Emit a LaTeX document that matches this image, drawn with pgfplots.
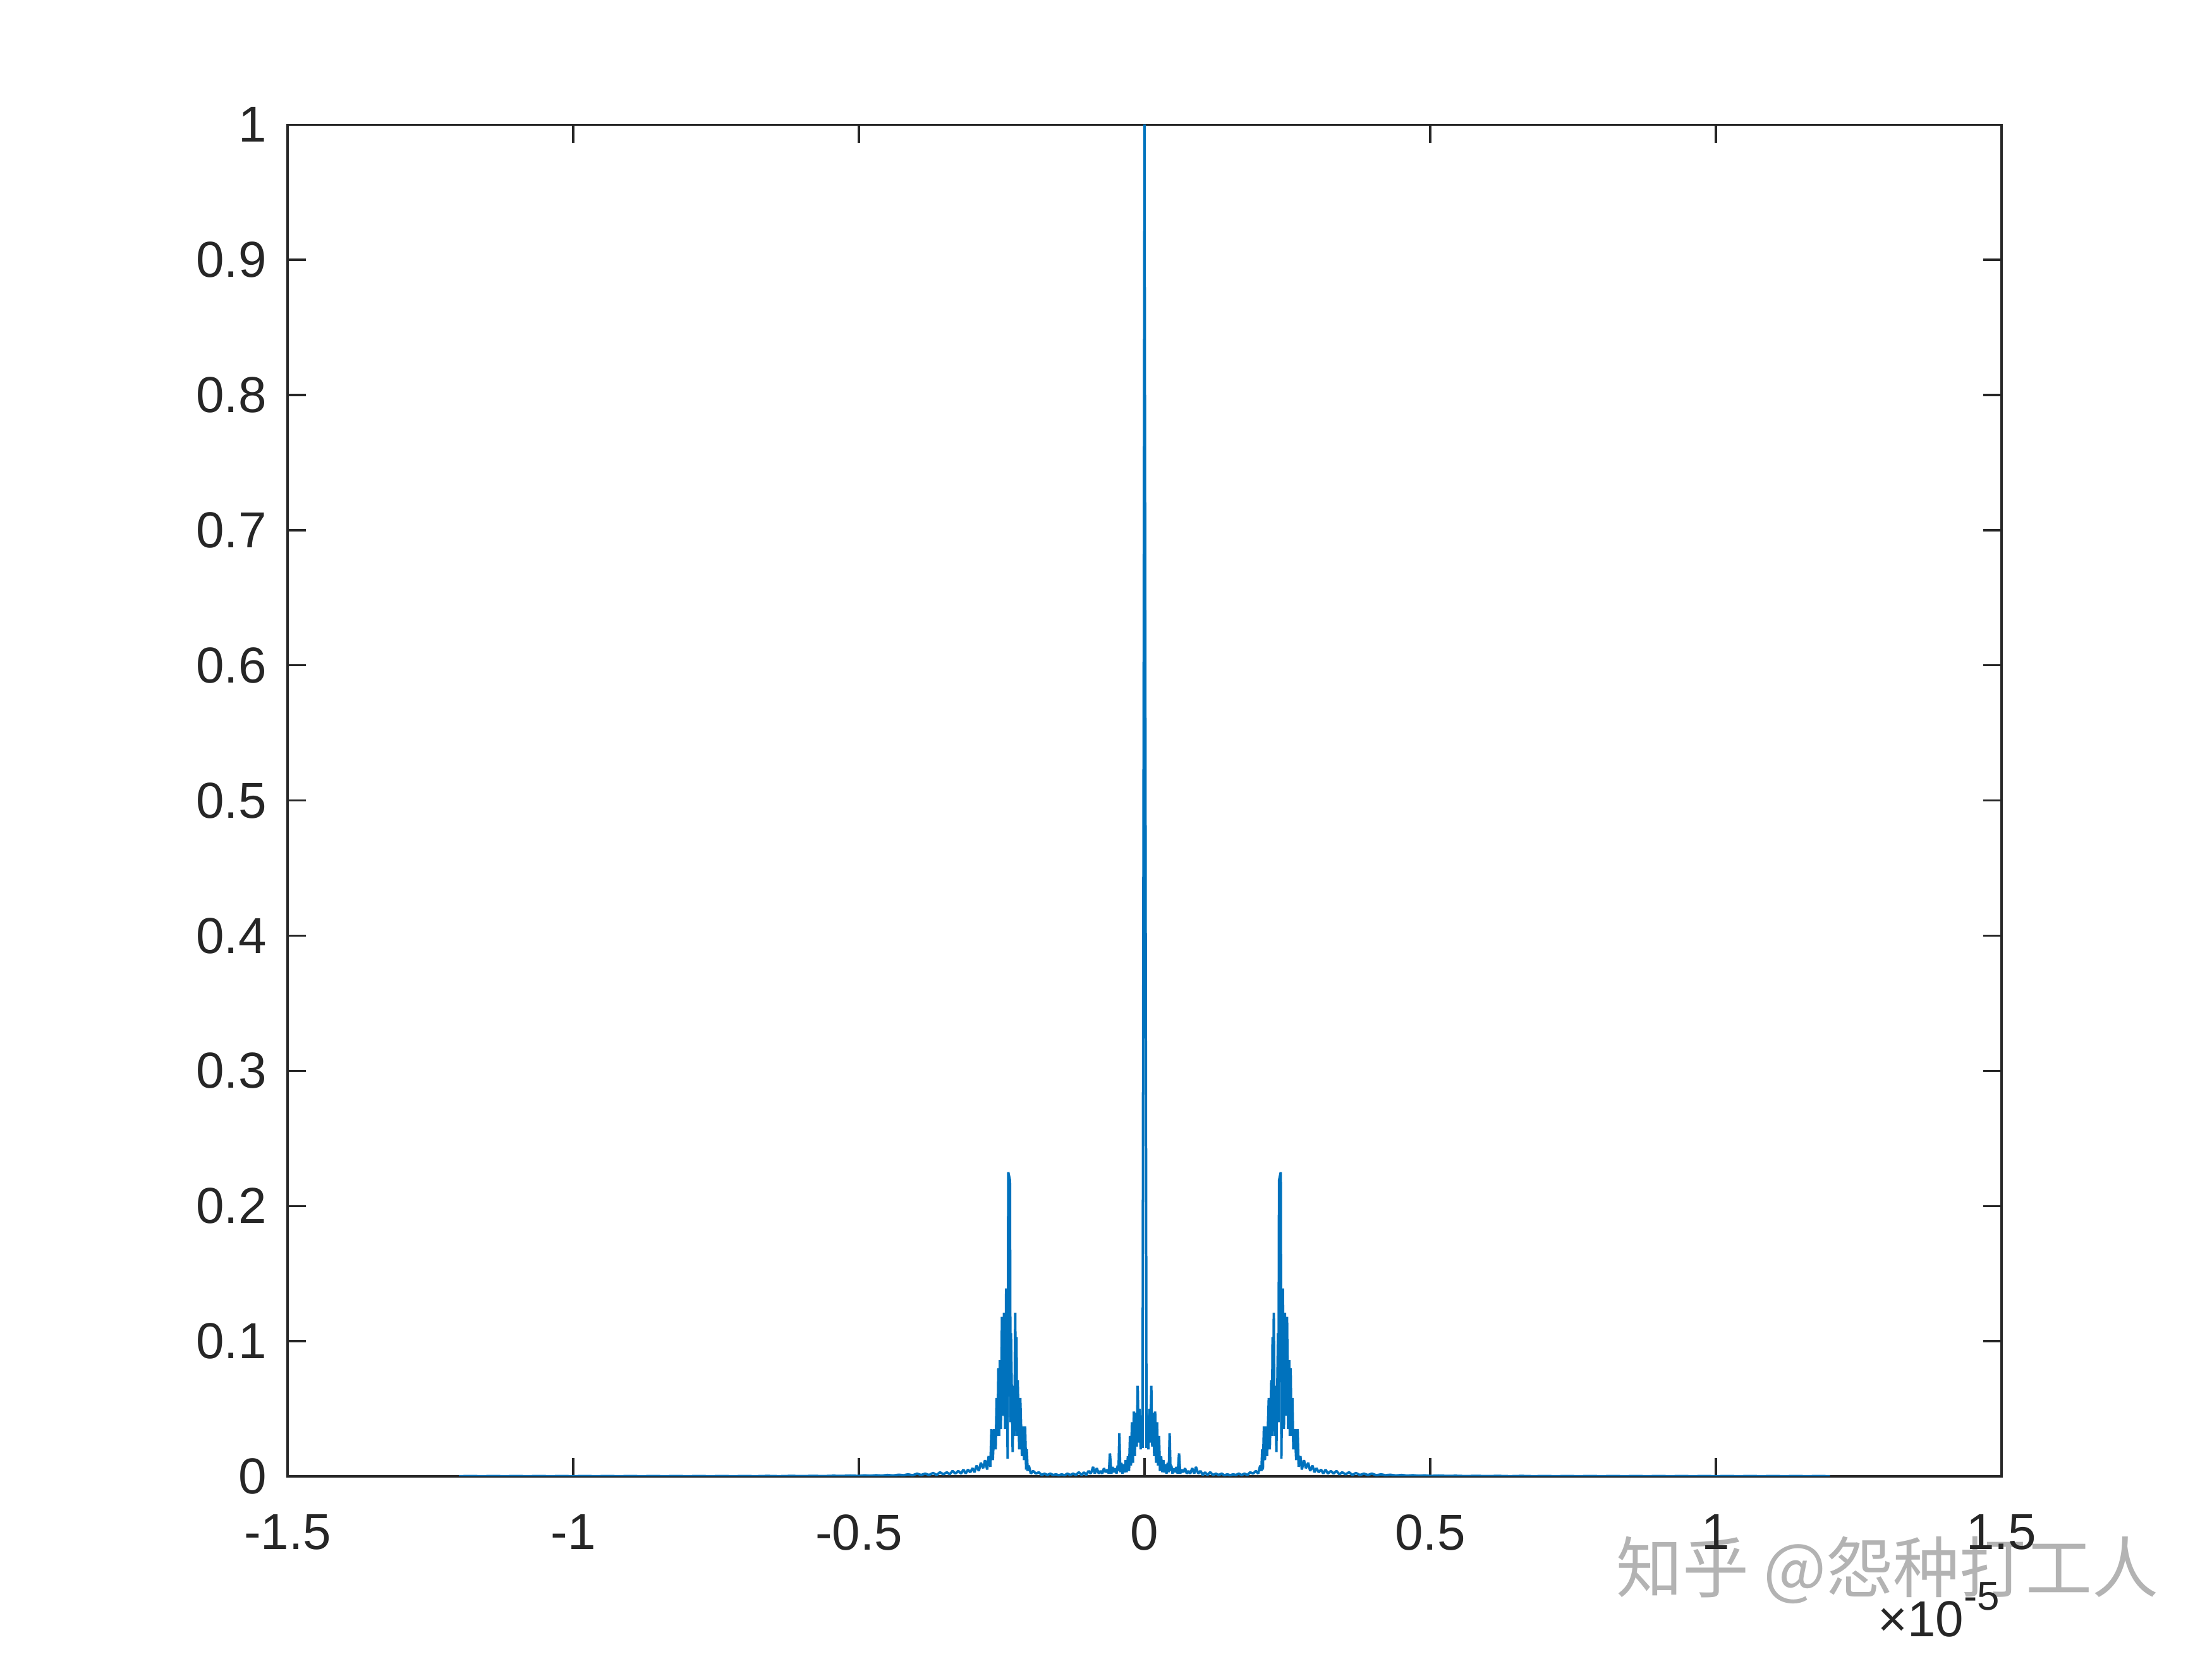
\documentclass[border=0pt]{standalone}
\usepackage{pgfplots}
\pgfplotsset{compat=1.18}
\usepackage{pgfplotstable}
\usepackage{fontspec}
\setmainfont{Liberation Sans}
\newfontfamily\cjk{Noto Sans CJK SC}
\definecolor{mblue}{rgb}{0,0.447,0.741}
\definecolor{axgray}{HTML}{262626}
\definecolor{wm}{HTML}{B3B3B3}

\pgfplotstableread{
x y
-1.2000 0.0001
-1.1800 0.0002
-1.1600 0.0001
-1.1400 0.0002
-1.1200 0.0001
-1.1000 0.0002
-1.0800 0.0001
-1.0600 0.0002
-1.0400 0.0001
-1.0200 0.0002
-1.0000 0.0001
-0.9800 0.0002
-0.9600 0.0001
-0.9400 0.0002
-0.9200 0.0001
-0.9000 0.0002
-0.8800 0.0001
-0.8600 0.0002
-0.8400 0.0001
-0.8200 0.0002
-0.8000 0.0001
-0.7800 0.0002
-0.7600 0.0001
-0.7400 0.0002
-0.7200 0.0001
-0.7000 0.0002
-0.6800 0.0001
-0.6600 0.0003
-0.6400 0.0001
-0.6200 0.0003
-0.6000 0.0002
-0.5800 0.0003
-0.5600 0.0002
-0.5450 0.0004
-0.5300 0.0003
-0.5150 0.0005
-0.5000 0.0003
-0.4900 0.0007
-0.4800 0.0004
-0.4700 0.0008
-0.4600 0.0005
-0.4500 0.0010
-0.4400 0.0006
-0.4300 0.0012
-0.4220 0.0008
-0.4140 0.0015
-0.4060 0.0008
-0.3980 0.0020
-0.3910 0.0010
-0.3840 0.0020
-0.3770 0.0010
-0.3700 0.0025
-0.3640 0.0010
-0.3580 0.0030
-0.3520 0.0015
-0.3460 0.0030
-0.3410 0.0015
-0.3360 0.0040
-0.3310 0.0020
-0.3260 0.0040
-0.3210 0.0020
-0.3170 0.0050
-0.3130 0.0020
-0.3090 0.0050
-0.3050 0.0030
-0.3010 0.0060
-0.2975 0.0030
-0.2940 0.0080
-0.2900 0.0040
-0.2865 0.0100
-0.2825 0.0060
-0.2791 0.0120
-0.2754 0.0050
-0.2728 0.0150
-0.2698 0.0070
-0.2680 0.0350
-0.2655 0.0120
-0.2632 0.0350
-0.2605 0.0200
-0.2588 0.0580
-0.2573 0.0300
-0.2558 0.0800
-0.2544 0.0300
-0.2532 0.0860
-0.2514 0.0350
-0.2495 0.1180
-0.2477 0.0450
-0.2459 0.1210
-0.2440 0.0350
-0.2422 0.1390
-0.2396 0.0130
-0.2385 0.2250
-0.2355 0.2190
-0.2345 0.0400
-0.2337 0.1060
-0.2308 0.0180
-0.2293 0.0670
-0.2278 0.0300
-0.2263 0.1210
-0.2252 0.0500
-0.2241 0.1030
-0.2230 0.0300
-0.2219 0.0710
-0.2193 0.0200
-0.2175 0.0580
-0.2145 0.0150
-0.2127 0.0370
-0.2108 0.0120
-0.2090 0.0370
-0.2072 0.0050
-0.2061 0.0200
-0.2045 0.0040
-0.2025 0.0080
-0.1990 0.0020
-0.1950 0.0040
-0.1900 0.0020
-0.1850 0.0030
-0.1800 0.0010
-0.1750 0.0020
-0.1700 0.0010
-0.1650 0.0020
-0.1600 0.0010
-0.1550 0.0015
-0.1500 0.0008
-0.1450 0.0015
-0.1400 0.0008
-0.1350 0.0020
-0.1300 0.0010
-0.1250 0.0020
-0.1200 0.0010
-0.1150 0.0030
-0.1100 0.0010
-0.1060 0.0030
-0.1020 0.0010
-0.0980 0.0040
-0.0940 0.0020
-0.0900 0.0070
-0.0870 0.0020
-0.0835 0.0060
-0.0800 0.0020
-0.0770 0.0040
-0.0740 0.0020
-0.0710 0.0060
-0.0680 0.0030
-0.0650 0.0050
-0.0625 0.0020
-0.0605 0.0170
-0.0580 0.0020
-0.0560 0.0070
-0.0535 0.0030
-0.0510 0.0060
-0.0490 0.0020
-0.0470 0.0080
-0.0455 0.0040
-0.0440 0.0320
-0.0424 0.0030
-0.0406 0.0100
-0.0385 0.0020
-0.0365 0.0090
-0.0350 0.0030
-0.0330 0.0120
-0.0313 0.0030
-0.0290 0.0150
-0.0271 0.0040
-0.0254 0.0300
-0.0237 0.0080
-0.0220 0.0400
-0.0203 0.0100
-0.0186 0.0480
-0.0170 0.0150
-0.0152 0.0470
-0.0136 0.0220
-0.0119 0.0670
-0.0102 0.0250
-0.0085 0.0500
-0.0068 0.0200
-0.0051 0.0450
-0.0034 0.0210
0.0000 1.0000
0.0034 0.0210
0.0051 0.0450
0.0068 0.0200
0.0085 0.0500
0.0102 0.0250
0.0119 0.0670
0.0136 0.0220
0.0152 0.0470
0.0170 0.0150
0.0186 0.0480
0.0203 0.0100
0.0220 0.0400
0.0237 0.0080
0.0254 0.0300
0.0271 0.0040
0.0290 0.0150
0.0313 0.0030
0.0330 0.0120
0.0350 0.0030
0.0365 0.0090
0.0385 0.0020
0.0406 0.0100
0.0424 0.0030
0.0440 0.0320
0.0455 0.0040
0.0470 0.0080
0.0490 0.0020
0.0510 0.0060
0.0535 0.0030
0.0560 0.0070
0.0580 0.0020
0.0605 0.0170
0.0625 0.0020
0.0650 0.0050
0.0680 0.0030
0.0710 0.0060
0.0740 0.0020
0.0770 0.0040
0.0800 0.0020
0.0835 0.0060
0.0870 0.0020
0.0900 0.0070
0.0940 0.0020
0.0980 0.0040
0.1020 0.0010
0.1060 0.0030
0.1100 0.0010
0.1150 0.0030
0.1200 0.0010
0.1250 0.0020
0.1300 0.0010
0.1350 0.0020
0.1400 0.0008
0.1450 0.0015
0.1500 0.0008
0.1550 0.0015
0.1600 0.0010
0.1650 0.0020
0.1700 0.0010
0.1750 0.0020
0.1800 0.0010
0.1850 0.0030
0.1900 0.0020
0.1950 0.0040
0.1990 0.0020
0.2025 0.0080
0.2045 0.0040
0.2061 0.0200
0.2072 0.0050
0.2090 0.0370
0.2108 0.0120
0.2127 0.0370
0.2145 0.0150
0.2175 0.0580
0.2193 0.0200
0.2219 0.0710
0.2230 0.0300
0.2241 0.1030
0.2252 0.0500
0.2263 0.1210
0.2278 0.0300
0.2293 0.0670
0.2308 0.0180
0.2337 0.1060
0.2345 0.0400
0.2355 0.2190
0.2385 0.2250
0.2396 0.0130
0.2422 0.1390
0.2440 0.0350
0.2459 0.1210
0.2477 0.0450
0.2495 0.1180
0.2514 0.0350
0.2532 0.0860
0.2544 0.0300
0.2558 0.0800
0.2573 0.0300
0.2588 0.0580
0.2605 0.0200
0.2632 0.0350
0.2655 0.0120
0.2680 0.0350
0.2698 0.0070
0.2728 0.0150
0.2754 0.0050
0.2791 0.0120
0.2825 0.0060
0.2865 0.0100
0.2900 0.0040
0.2940 0.0080
0.2975 0.0030
0.3010 0.0060
0.3050 0.0030
0.3090 0.0050
0.3130 0.0020
0.3170 0.0050
0.3210 0.0020
0.3260 0.0040
0.3310 0.0020
0.3360 0.0040
0.3410 0.0015
0.3460 0.0030
0.3520 0.0015
0.3580 0.0030
0.3640 0.0010
0.3700 0.0025
0.3770 0.0010
0.3840 0.0020
0.3910 0.0010
0.3980 0.0020
0.4060 0.0008
0.4140 0.0015
0.4220 0.0008
0.4300 0.0012
0.4400 0.0006
0.4500 0.0010
0.4600 0.0005
0.4700 0.0008
0.4800 0.0004
0.4900 0.0007
0.5000 0.0003
0.5150 0.0005
0.5300 0.0003
0.5450 0.0004
0.5600 0.0002
0.5800 0.0003
0.6000 0.0002
0.6200 0.0003
0.6400 0.0001
0.6600 0.0003
0.6800 0.0001
0.7000 0.0002
0.7200 0.0001
0.7400 0.0002
0.7600 0.0001
0.7800 0.0002
0.8000 0.0001
0.8200 0.0002
0.8400 0.0001
0.8600 0.0002
0.8800 0.0001
0.9000 0.0002
0.9200 0.0001
0.9400 0.0002
0.9600 0.0001
0.9800 0.0002
1.0000 0.0001
1.0200 0.0002
1.0400 0.0001
1.0600 0.0002
1.0800 0.0001
1.1000 0.0002
1.1200 0.0001
1.1400 0.0002
1.1600 0.0001
1.1800 0.0002
1.2000 0.0001
}\corrdata

\begin{document}
\begin{tikzpicture}
\path[use as bounding box] (-72.8pt,-46.24pt) rectangle (487.2pt,373.76pt);
\node[text=wm, font=\cjk\fontsize{16.8}{18}\selectfont, inner sep=0pt] at (405pt,-23.7pt) {知乎 @怨种打工人};
\begin{axis}[
  scale only axis,
  width=433.9pt, height=342.2pt,
  at={(0pt,0pt)}, anchor=south west,
  xmin=-1.5, xmax=1.5, ymin=0, ymax=1,
  xtick={-1.5,-1,-0.5,0,0.5,1,1.5},
  xticklabels={-1.5,-1,-0.5,0,0.5,1,1.5},
  ytick={0,0.1,0.2,0.3,0.4,0.5,0.6,0.7,0.8,0.9,1},
  yticklabels={0,0.1,0.2,0.3,0.4,0.5,0.6,0.7,0.8,0.9,1},
  tick align=inside,
  major tick length=4.6pt,
  axis line style={axgray, line width=0.55pt},
  every tick/.style={axgray, line width=0.55pt},
  ticklabel style={font=\fontsize{12.8}{15}\selectfont, text=axgray},
  xticklabel style={yshift=-6.2pt},
  yticklabel style={xshift=-1.8pt},
  axis on top=false,
]
\addplot[mblue, line width=0.62pt, line join=bevel, mark=none] table[x=x, y=y] {\corrdata};
\end{axis}
\node[anchor=base east, inner sep=0pt, text=axgray, font=\fontsize{12.8}{15}\selectfont] at (433.6pt,-40.6pt) {×10\raisebox{6.7pt}{\fontsize{10.2}{12}\selectfont -5}};
\end{tikzpicture}
\end{document}
